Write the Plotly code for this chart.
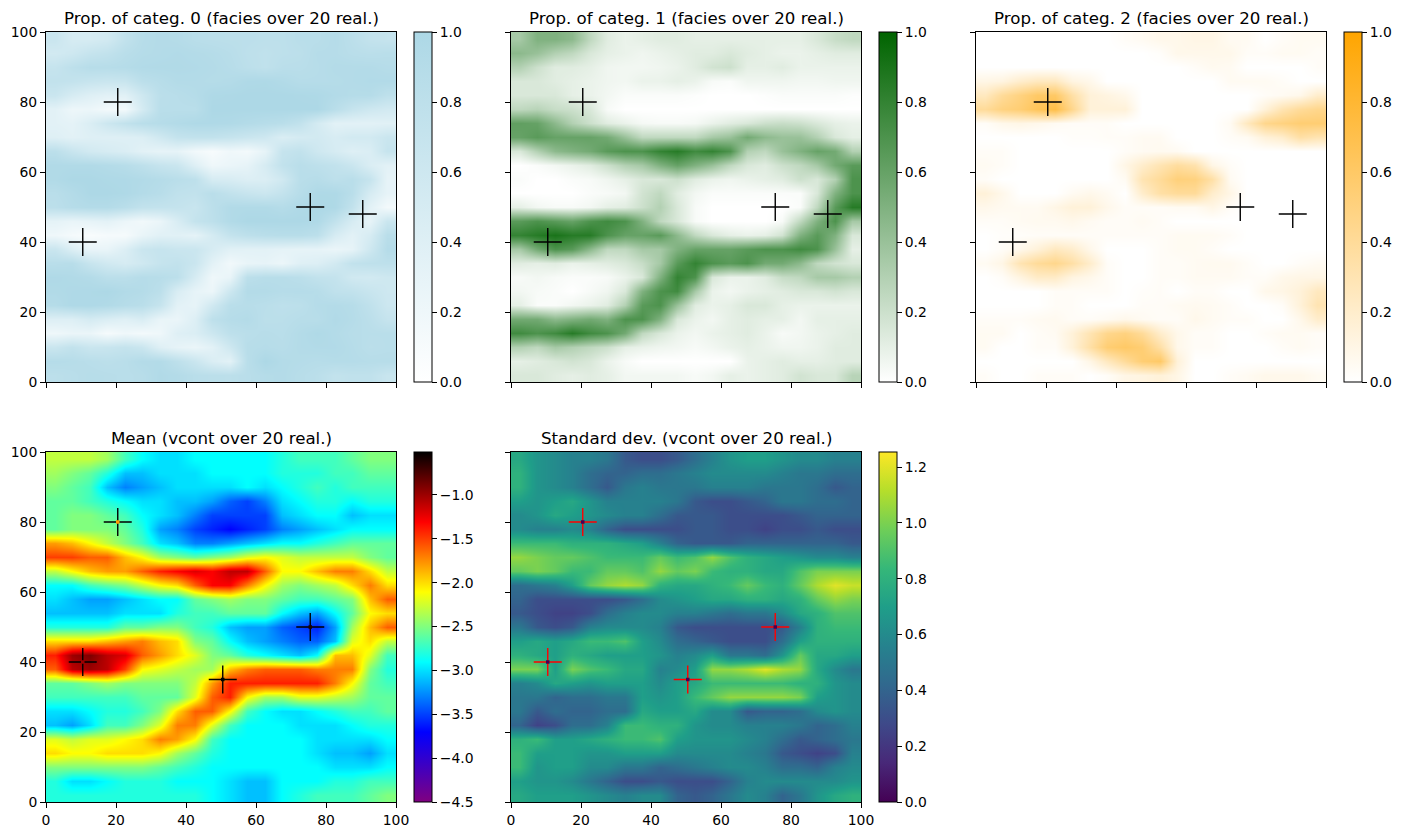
import plotly.graph_objects as go

FIG_W, FIG_H = 1402, 836

# Cell centres of the coarse grid; rows below run from the top of the domain down.
X_CENTRES = [2.5 + 5 * i for i in range(20)]
Y_CENTRES = [98 - 4 * j for j in range(25)]

# Proportion of category 0, in percent
PROP_0 = [
    [65,50,50,55,75,88,92,90,85,83,82,82,80,80,85,85,90,82,73,70],
    [55,60,70,75,85,90,92,94,92,90,86,80,77,80,82,89,89,85,83,85],
    [70,80,88,88,90,94,95,95,94,92,88,82,77,84,85,88,92,92,92,89],
    [75,73,68,65,67,82,87,92,92,90,92,97,98,94,89,89,90,92,94,94],
    [65,50,40,35,37,60,83,86,90,98,99,100,100,100,99,98,93,90,90,79],
    [35,22,23,15,15,52,85,85,85,100,100,100,100,100,100,100,85,70,60,55],
    [35,32,45,62,75,85,89,93,97,97,96,92,88,85,75,53,35,35,35,37],
    [40,35,40,40,40,43,58,72,75,75,70,65,60,45,52,55,48,55,55,65],
    [82,67,55,50,45,35,30,30,17,10,19,15,30,70,75,60,50,40,45,70],
    [95,95,95,92,88,80,70,65,40,20,25,30,50,75,85,80,75,65,45,35],
    [95,100,100,98,97,94,90,85,80,50,48,42,44,57,85,88,80,85,70,30],
    [85,92,100,100,98,92,87,77,75,85,75,68,63,73,88,98,98,85,50,30],
    [82,89,92,92,85,75,73,72,67,82,94,95,95,90,97,100,98,75,35,15],
    [32,27,30,34,24,17,25,47,72,80,94,100,100,100,100,97,75,50,30,65],
    [20,13,8,12,12,27,37,37,32,52,72,80,85,87,87,82,50,35,50,85],
    [65,43,27,27,43,65,70,65,65,50,37,35,35,32,30,30,25,30,60,90],
    [85,87,68,57,50,58,70,75,65,35,17,27,30,24,39,42,55,75,79,80],
    [97,95,92,83,83,89,87,82,50,20,27,82,87,87,83,75,72,57,55,60],
    [95,97,98,100,94,91,82,47,30,23,62,92,92,89,90,88,77,75,67,60],
    [90,98,98,95,89,85,70,35,30,57,85,87,84,80,82,90,92,89,77,62],
    [42,42,52,45,39,47,27,25,42,80,89,92,82,83,87,87,95,90,82,70],
    [20,25,25,12,20,15,20,40,45,62,80,84,87,85,92,97,92,87,85,85],
    [65,75,65,67,72,65,40,30,25,35,60,87,89,87,92,94,94,89,83,85],
    [90,88,85,82,85,92,92,80,65,45,35,85,100,92,90,88,90,90,88,88],
    [82,85,88,87,85,87,95,92,85,83,82,85,90,92,87,83,74,77,77,67],
]

# Proportion of category 1, in percent
PROP_1 = [
    [35,50,50,45,25,12,8,10,12,12,10,10,10,10,10,10,10,15,22,25],
    [45,40,30,25,15,10,8,6,8,10,12,12,15,12,10,8,8,10,12,12],
    [30,20,12,12,10,6,5,5,6,8,12,18,20,10,10,12,8,8,8,8],
    [15,15,12,10,8,6,5,8,8,10,8,3,2,6,6,6,5,5,6,6],
    [15,15,15,10,8,5,2,2,2,2,1,0,0,0,1,2,2,2,2,1],
    [25,28,22,20,15,3,0,0,0,0,0,0,0,0,0,0,0,0,0,0],
    [62,60,45,30,20,12,8,4,3,3,4,8,12,15,20,22,20,15,10,8],
    [60,65,60,60,60,55,40,25,25,25,25,35,40,55,45,40,40,30,15,10],
    [15,30,45,50,55,65,70,70,80,85,75,80,70,30,25,40,50,60,55,30],
    [0,2,5,8,12,20,30,35,50,60,50,40,25,15,12,20,25,35,55,65],
    [2,0,0,2,3,6,10,15,15,20,12,8,6,8,10,12,20,15,30,70],
    [0,0,0,0,2,3,5,18,25,12,5,2,2,2,2,2,2,15,50,70],
    [10,5,3,3,5,10,12,20,30,15,3,0,0,0,0,0,2,25,65,85],
    [65,70,65,60,70,75,70,50,25,15,3,0,0,0,0,3,25,50,70,35],
    [80,85,90,85,85,70,60,60,65,45,25,15,10,8,10,18,50,65,50,15],
    [35,55,70,65,45,25,25,35,35,50,60,60,60,65,70,70,75,70,40,10],
    [12,10,12,8,10,12,15,22,35,65,80,70,65,70,55,55,45,25,18,15],
    [3,5,3,2,2,3,8,15,50,80,70,15,8,8,12,22,25,35,35,30],
    [5,3,2,0,3,6,15,50,70,75,35,8,5,8,10,12,15,15,18,15],
    [10,2,2,5,8,12,30,65,70,40,12,8,10,15,15,10,8,8,8,8],
    [55,55,45,50,55,50,70,70,50,15,8,5,10,12,10,10,5,10,10,10],
    [75,70,75,85,75,70,55,25,15,8,5,8,10,12,8,3,5,8,10,12],
    [30,25,35,30,25,20,10,8,6,5,3,5,8,10,8,6,6,8,12,12],
    [10,12,15,18,15,8,3,0,0,0,0,0,0,8,10,12,10,10,12,12],
    [15,15,12,10,12,10,5,5,5,5,3,5,10,8,10,12,18,15,15,28],
]

# Proportion of category 2, in percent
PROP_2 = [
    [0,0,0,0,0,0,0,0,3,5,8,8,10,10,5,5,0,3,5,5],
    [0,0,0,0,0,0,0,0,0,0,2,8,8,8,8,3,3,5,5,3],
    [0,0,0,0,0,0,0,0,0,0,0,0,3,6,5,0,0,0,0,3],
    [10,12,20,25,25,12,8,0,0,0,0,0,0,0,5,5,5,3,0,0],
    [25,40,50,60,60,35,15,12,8,0,0,0,0,0,0,0,3,5,8,20],
    [40,50,55,65,72,45,15,15,15,0,0,0,0,0,0,0,15,30,40,45],
    [3,8,10,8,5,3,3,3,0,0,0,0,0,0,5,25,45,50,55,55],
    [0,0,0,0,0,2,2,3,3,5,5,0,0,0,3,5,15,20,35,30],
    [3,3,0,0,0,0,0,0,3,5,6,5,0,0,0,0,0,0,0,0],
    [5,3,0,0,0,0,0,0,10,20,30,38,32,10,3,0,0,0,0,0],
    [3,0,0,0,0,0,0,0,5,30,40,52,50,35,5,0,0,0,0,0],
    [15,8,0,0,0,5,8,5,0,20,35,40,40,20,10,0,0,0,0,0],
    [8,6,5,5,10,15,15,8,3,3,3,5,5,10,3,0,0,0,0,0],
    [3,3,5,6,6,8,5,3,3,5,3,0,0,0,0,0,0,0,0,0],
    [0,2,2,3,3,3,3,3,3,3,3,5,5,5,3,0,0,0,0,0],
    [0,3,8,15,25,20,8,0,0,0,3,5,5,3,0,0,0,0,0,0],
    [5,10,30,40,45,35,20,3,0,0,3,3,5,6,6,3,0,0,3,5],
    [0,3,12,22,22,12,8,3,0,0,3,3,5,5,5,3,3,8,10,10],
    [0,0,0,0,3,3,3,3,0,2,3,0,3,3,0,0,8,10,15,25],
    [0,0,0,0,3,3,0,0,0,3,3,5,6,5,3,0,0,3,15,30],
    [3,3,3,5,6,3,3,5,8,5,3,3,8,5,3,3,0,0,8,20],
    [5,5,0,3,5,15,30,45,50,40,20,8,3,3,0,0,3,5,5,3],
    [5,0,0,3,3,15,35,55,60,55,35,8,3,3,0,0,0,3,5,3],
    [0,0,0,0,0,0,10,25,40,55,60,15,0,0,0,0,0,0,0,0],
    [3,0,0,3,3,3,0,3,10,12,15,10,0,0,3,5,8,8,8,5],
]

# Mean of vcont
VCONT_MEAN = [
    [-2.3,-2.3,-2.3,-2.4,-2.7,-2.9,-3.0,-3.0,-2.9,-2.9,-2.9,-2.9,-2.9,-2.8,-2.7,-2.7,-2.7,-2.6,-2.5,-2.5],
    [-2.4,-2.5,-2.6,-2.8,-3.1,-3.1,-3.0,-3.0,-3.0,-2.9,-2.9,-2.9,-2.9,-2.8,-2.8,-2.8,-2.7,-2.7,-2.6,-2.6],
    [-2.5,-2.6,-2.7,-3.1,-3.3,-3.2,-3.1,-3.0,-3.0,-3.0,-3.0,-2.9,-3.0,-2.9,-2.8,-2.7,-2.8,-2.7,-2.7,-2.7],
    [-2.6,-2.6,-2.7,-2.8,-2.9,-3.0,-3.0,-3.1,-3.1,-3.2,-3.4,-3.5,-3.3,-3.0,-2.9,-2.8,-2.8,-2.9,-2.8,-2.8],
    [-2.6,-2.5,-2.5,-2.6,-2.7,-2.9,-3.0,-3.1,-3.3,-3.5,-3.5,-3.5,-3.5,-3.1,-3.0,-2.9,-2.9,-3.1,-3.0,-3.0],
    [-2.6,-2.5,-2.5,-2.5,-2.6,-2.8,-3.2,-3.3,-3.5,-3.6,-3.7,-3.6,-3.5,-3.3,-3.2,-3.1,-3.0,-2.9,-2.9,-2.9],
    [-1.8,-1.9,-2.1,-2.3,-2.5,-2.7,-3.0,-3.1,-3.3,-3.3,-3.2,-3.1,-3.0,-2.9,-2.9,-2.8,-2.7,-2.6,-2.6,-2.6],
    [-1.5,-1.5,-1.6,-1.6,-1.9,-2.1,-2.4,-2.5,-2.6,-2.5,-2.4,-2.2,-2.1,-2.2,-2.3,-2.3,-2.3,-2.3,-2.5,-2.6],
    [-2.3,-2.1,-1.9,-1.8,-1.8,-1.6,-1.4,-1.3,-1.2,-1.3,-1.1,-1.1,-1.6,-2.1,-2.1,-1.9,-1.7,-1.7,-2.0,-2.3],
    [-2.9,-2.9,-2.7,-2.6,-2.5,-2.3,-2.1,-2.0,-1.6,-1.3,-1.3,-1.7,-2.1,-2.4,-2.5,-2.4,-2.3,-2.0,-1.7,-2.0],
    [-3.0,-3.1,-3.2,-3.2,-3.1,-3.0,-2.9,-2.9,-2.6,-2.5,-2.4,-2.5,-2.5,-2.6,-2.7,-2.7,-2.6,-2.5,-1.9,-1.6],
    [-3.1,-3.1,-3.1,-3.1,-3.0,-3.0,-3.0,-2.8,-2.7,-2.7,-2.6,-2.6,-2.6,-2.9,-3.1,-3.2,-2.9,-2.6,-2.1,-2.0],
    [-2.8,-2.8,-2.8,-2.8,-2.6,-2.6,-2.5,-2.5,-2.7,-2.8,-3.1,-3.2,-3.2,-3.4,-3.5,-3.6,-3.2,-2.4,-1.9,-1.6],
    [-2.0,-2.0,-2.0,-1.9,-1.8,-1.7,-1.9,-2.0,-2.5,-2.6,-2.9,-3.1,-3.2,-3.3,-3.4,-3.4,-3.1,-2.2,-2.0,-2.3],
    [-1.4,-1.0,-0.9,-1.1,-1.2,-1.6,-1.8,-2.0,-2.2,-2.5,-2.6,-2.8,-2.9,-3.0,-3.1,-2.9,-1.9,-1.9,-2.2,-2.7],
    [-1.6,-1.1,-1.0,-1.1,-1.5,-2.1,-2.2,-2.3,-2.4,-2.4,-1.9,-1.7,-1.6,-1.6,-1.6,-1.7,-1.7,-1.7,-2.5,-2.8],
    [-2.6,-2.6,-2.5,-2.4,-2.5,-2.5,-2.5,-2.5,-2.3,-1.8,-1.4,-1.4,-1.4,-1.4,-1.4,-1.4,-1.7,-2.1,-2.6,-2.7],
    [-2.7,-2.7,-2.7,-2.7,-2.7,-2.6,-2.6,-2.6,-2.2,-1.6,-1.4,-2.1,-2.4,-2.4,-2.2,-2.2,-2.3,-2.4,-2.6,-2.6],
    [-3.0,-3.0,-2.9,-2.8,-2.8,-2.7,-2.5,-2.0,-1.6,-1.6,-2.1,-2.7,-2.9,-3.0,-3.0,-2.9,-2.8,-2.7,-2.7,-2.6],
    [-3.1,-3.2,-3.0,-2.7,-2.7,-2.5,-2.2,-1.7,-1.7,-2.2,-2.7,-2.9,-2.9,-2.9,-3.0,-3.0,-3.0,-2.9,-2.8,-2.8],
    [-2.2,-2.3,-2.2,-2.2,-2.1,-2.0,-1.7,-1.8,-2.1,-2.7,-2.9,-2.9,-2.9,-2.9,-2.9,-3.0,-3.0,-3.0,-3.0,-2.9],
    [-2.0,-2.1,-2.1,-2.0,-2.0,-2.0,-2.1,-2.4,-2.6,-2.8,-2.9,-2.9,-2.9,-2.9,-2.9,-3.0,-3.1,-3.1,-3.2,-3.0],
    [-2.5,-2.5,-2.5,-2.5,-2.5,-2.5,-2.6,-2.7,-2.8,-2.9,-2.9,-2.9,-2.9,-2.9,-2.9,-2.9,-3.0,-3.0,-3.0,-2.9],
    [-2.8,-3.0,-3.0,-2.9,-2.8,-2.8,-2.8,-2.9,-2.9,-2.9,-3.0,-3.1,-3.1,-2.9,-2.9,-2.9,-2.8,-2.8,-2.7,-2.7],
    [-2.8,-2.8,-2.8,-2.8,-2.8,-2.8,-2.8,-2.8,-2.8,-2.9,-3.0,-3.1,-3.1,-2.9,-2.8,-2.7,-2.7,-2.7,-2.6,-2.5],
]

# Standard deviation of vcont
VCONT_STD = [
    [.75,.65,.6,.55,.55,.5,.35,.3,.3,.35,.45,.55,.65,.7,.7,.65,.6,.6,.55,.55],
    [.8,.65,.6,.55,.45,.4,.4,.45,.45,.5,.55,.6,.6,.6,.6,.55,.5,.5,.45,.45],
    [.8,.65,.6,.55,.45,.35,.5,.55,.5,.5,.5,.55,.55,.55,.5,.5,.5,.45,.35,.4],
    [.7,.65,.7,.75,.65,.55,.55,.55,.55,.5,.35,.3,.3,.35,.4,.5,.5,.45,.45,.4],
    [.6,.65,.75,.7,.65,.6,.55,.55,.45,.35,.35,.35,.3,.3,.3,.3,.35,.4,.4,.4],
    [.6,.55,.55,.6,.55,.4,.3,.3,.3,.3,.35,.35,.3,.3,.25,.3,.3,.35,.3,.3],
    [.85,.85,.85,.8,.8,.8,.75,.7,.55,.4,.35,.35,.35,.4,.4,.4,.4,.4,.4,.35],
    [1.05,1.0,.95,.95,.9,.85,.85,.85,.95,.85,.9,1.05,.9,.8,.75,.7,.65,.6,.6,.55],
    [.95,1.0,.95,.85,.85,.95,.95,.9,1.05,.95,1.0,.85,.8,.8,.75,.75,.9,1.0,1.0,1.0],
    [.45,.5,.55,.7,.95,1.05,1.1,1.05,.8,.75,.75,.8,.85,.95,.85,.8,.95,1.1,1.2,1.15],
    [.4,.3,.3,.3,.3,.3,.35,.45,.6,.65,.7,.75,.75,.8,.8,.75,.8,.95,1.05,1.0],
    [.35,.3,.25,.25,.3,.45,.55,.6,.6,.55,.55,.5,.45,.5,.5,.6,.75,.8,.9,.9],
    [.5,.35,.3,.35,.55,.6,.6,.6,.55,.35,.3,.3,.3,.3,.3,.35,.55,.8,.85,.85],
    [.7,.75,.7,.75,.85,.85,.9,.7,.6,.45,.4,.35,.3,.3,.3,.45,.7,.8,.8,.8],
    [.8,.75,.7,.8,.75,.7,.7,.7,.65,.55,.6,.7,.5,.5,.45,.65,.95,.75,.75,.7],
    [1.0,1.0,.7,1.0,.9,.85,.75,.75,.55,.6,.7,1.05,1.05,1.1,1.2,1.1,1.05,.75,.6,.5],
    [.55,.6,.75,.7,.65,.7,.7,.7,.6,.7,.75,.85,.85,.85,.85,.85,.8,.8,.65,.6],
    [.5,.5,.4,.45,.45,.5,.5,.7,.65,.7,.85,.95,1.05,1.05,1.05,1.05,1.0,.7,.65,.6],
    [.5,.35,.45,.4,.4,.45,.45,.75,.7,.7,.75,.6,.6,.35,.4,.4,.45,.6,.65,.6],
    [.4,.25,.3,.45,.45,.55,.85,.85,.8,.8,.65,.6,.6,.55,.55,.55,.5,.4,.45,.55],
    [.8,.85,.7,.7,.75,.8,.85,.85,.9,.7,.65,.65,.65,.6,.55,.45,.35,.4,.45,.5],
    [.85,.7,.7,.7,.65,.65,.7,.7,.7,.6,.6,.6,.6,.55,.5,.35,.3,.25,.3,.55],
    [.85,.65,.7,.7,.6,.6,.5,.5,.4,.45,.5,.55,.6,.6,.55,.45,.45,.4,.55,.6],
    [.7,.65,.65,.6,.5,.4,.3,.3,.35,.3,.3,.3,.4,.55,.6,.6,.6,.6,.6,.65],
    [.75,.7,.7,.7,.65,.6,.55,.6,.6,.4,.35,.4,.5,.6,.55,.4,.5,.65,.75,.8],
]

# Conditioning locations
FACIES_X = [20.5, 10.5, 75.5, 90.5]
FACIES_Y = [80, 40, 50, 48]
VCONT_X = [20.5, 10.5, 75.5, 50.5]
VCONT_Y = [80, 40, 50, 35]
VCONT_DATA = [-1.8, -1.0, -0.6, -0.5]
STD_AT_DATA = [0.0, 0.0, 0.0, 0.0]

TITLES = [
    "Prop. of categ. 0 (facies over 20 real.)",
    "Prop. of categ. 1 (facies over 20 real.)",
    "Prop. of categ. 2 (facies over 20 real.)",
    "Mean (vcont over 20 real.)",
    "Standard dev. (vcont over 20 real.)",
]

FONT = "DejaVu Sans"
MEAN_SCALE = [[0.0, "#800080"], [0.2, "#0000ff"], [0.4, "#00ffff"],
              [0.6, "#ffff00"], [0.8, "#ff0000"], [1.0, "#000000"]]


def pct(rows):
    return [[v / 100 for v in row] for row in rows]


# z, colorscale, zmin, zmax, tick spacing, first tick, colour of the crosses
PANELS = [
    (pct(PROP_0), [[0, "#ffffff"], [1, "#add8e6"]], 0, 1, 0.2, 0, "black"),
    (pct(PROP_1), [[0, "#ffffff"], [1, "#006400"]], 0, 1, 0.2, 0, "black"),
    (pct(PROP_2), [[0, "#ffffff"], [1, "#ffa500"]], 0, 1, 0.2, 0, "black"),
    (VCONT_MEAN, MEAN_SCALE, -4.5, -0.51, 0.5, -4, "black"),
    (VCONT_STD, "Viridis", 0, 1.254, 0.2, 0, "red"),
]

LEFT = [46, 511, 976]
TOP = [32, 452]
SIDE = 350

fig = go.Figure()
annotations = []
layout = {}

for k, (z, scale, zmin, zmax, dtick, tick0, cross) in enumerate(PANELS):
    col, row = k % 3, k // 3
    x0, y0 = LEFT[col], TOP[row]
    suffix = "" if k == 0 else str(k + 1)
    fig.add_trace(go.Heatmap(
        x=X_CENTRES, y=Y_CENTRES, z=z, zsmooth="best",
        colorscale=scale, zmin=zmin, zmax=zmax,
        xaxis="x" + suffix, yaxis="y" + suffix,
        colorbar=dict(
            x=(x0 + SIDE + 18) / FIG_W, xanchor="left", xpad=0,
            y=1 - (y0 + SIDE / 2) / FIG_H, yanchor="middle", ypad=0,
            len=SIDE / FIG_H, lenmode="fraction",
            thickness=18, thicknessmode="pixels",
            outlinewidth=1, outlinecolor="black",
            ticks="outside", ticklen=5, tickwidth=1, tickcolor="black",
            tick0=tick0, dtick=dtick, tickformat=".1f",
            tickfont=dict(family=FONT, size=13.9, color="black"),
        ),
    ))
    common = dict(
        range=[0, 100], tick0=0, dtick=20, ticks="outside", ticklen=5, tickwidth=1,
        tickcolor="black", showline=True, linecolor="black", linewidth=1, mirror=True,
        showgrid=False, zeroline=False,
        tickfont=dict(family=FONT, size=13.9, color="black"),
    )
    layout["xaxis" + suffix] = dict(
        common, domain=[x0 / FIG_W, (x0 + SIDE) / FIG_W], anchor="y" + suffix,
        showticklabels=row == 1)
    layout["yaxis" + suffix] = dict(
        common, domain=[1 - (y0 + SIDE) / FIG_H, 1 - y0 / FIG_H], anchor="x" + suffix,
        showticklabels=col == 0)

    xs, ys = (FACIES_X, FACIES_Y) if k < 3 else (VCONT_X, VCONT_Y)
    fig.add_trace(go.Scatter(
        x=xs, y=ys, mode="markers", xaxis="x" + suffix, yaxis="y" + suffix,
        showlegend=False, hoverinfo="skip",
        marker=dict(symbol="cross-thin", size=20, color=cross,
                    line=dict(color=cross, width=1.4)),
    ))
    if k >= 3:
        # The cell holding each datum keeps its own colour under the cross.
        fig.add_trace(go.Scatter(
            x=xs, y=ys, mode="markers", xaxis="x" + suffix, yaxis="y" + suffix,
            showlegend=False, hoverinfo="skip",
            marker=dict(symbol="square", size=3.5, line=dict(width=0),
                        color=VCONT_DATA if k == 3 else STD_AT_DATA,
                        colorscale=scale, cmin=zmin, cmax=zmax),
        ))
    annotations.append(dict(
        text=TITLES[k], xref="paper", yref="paper", showarrow=False,
        x=(x0 + SIDE / 2) / FIG_W, xanchor="center",
        y=1 - (y0 - 2) / FIG_H, yanchor="bottom",
        font=dict(family=FONT, size=16.67, color="black"),
    ))

fig.update_layout(
    width=FIG_W, height=FIG_H,
    margin=dict(l=0, r=0, t=0, b=0, autoexpand=False),
    paper_bgcolor="white", plot_bgcolor="white", showlegend=False,
    font=dict(family=FONT), annotations=annotations, **layout,
)
fig.write_html("out.html")
